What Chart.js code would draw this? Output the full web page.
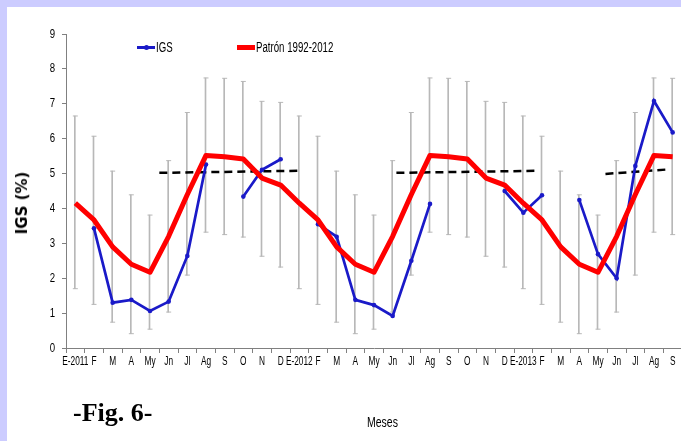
<!DOCTYPE html>
<html>
<head>
<meta charset="utf-8">
<script src="https://cdn.jsdelivr.net/npm/chart.js@4"></script>
<style>
  body { margin: 0; width: 681px; height: 441px; overflow: hidden; background: #ccccff; position: relative; }
  #panel { position: absolute; left: 7px; top: 7px; right: 0; bottom: 0; background: #fff; }
  #wrap { position: absolute; left: 0; top: 0; width: 690px; height: 441px; }
  .txt { position: absolute; white-space: nowrap; }
  #ytitle { left: 22px; top: 203px; transform: translate(-50%, -50%) rotate(-90deg); font: bold 15px "DejaVu Sans", sans-serif; }
  #xtitle { left: 367px; top: 414px; transform: scaleX(0.75); transform-origin: left top; font: 14px "Liberation Sans", sans-serif; line-height: 16px; }
  #fig { left: 73px; top: 398px; font: bold 26px "Liberation Serif", serif; }
  .leg { top: 39px; font: 14px "Liberation Sans", sans-serif; line-height: 16px; transform: scaleX(0.69); transform-origin: left top; }
  .sw { position: absolute; }
</style>
</head>
<body>
<div id="panel"></div>
<div id="wrap"><canvas id="chart"></canvas></div>
<div class="txt" id="ytitle">IGS (%)</div>
<div class="txt" id="xtitle">Meses</div>
<div class="txt" id="fig">-Fig. 6-</div>
<div class="sw" style="left:137px;top:46px;width:18px;height:3px;background:#1a1ac8"></div>
<div class="sw" style="left:144px;top:45px;width:5px;height:5px;border-radius:3px;background:#1a1ac8"></div>
<div class="txt leg" style="left:156px">IGS</div>
<div class="sw" style="left:237px;top:45px;width:18px;height:5px;background:#ff0000"></div>
<div class="txt leg" style="left:256px">Patrón 1992-2012</div>
<script>
// months Jan 2011 - Sep 2013
const meses = ['E-2011','F','M','A','My','Jn','Jl','Ag','S','O','N','D',
  'E-2012','F','M','A','My','Jn','Jl','Ag','S','O','N','D',
  'E-2013','F','M','A','My','Jn','Jl','Ag','S'];

// IGS measured (gaps = no sample)
const igs = [null,3.43,1.30,1.38,1.06,1.33,2.64,5.26,null,4.34,5.11,5.41,
  null,3.55,3.19,1.38,1.23,0.92,2.50,4.13,null,null,null,4.50,
  3.88,4.38,null,4.24,2.69,2.00,5.22,7.08,6.18];

// Patron 1992-2012
const patron = [4.15,3.67,2.90,2.40,2.17,3.20,4.40,5.52,5.48,5.42,4.87,4.67,
  4.15,3.67,2.90,2.40,2.17,3.20,4.40,5.52,5.48,5.42,4.87,4.67,
  4.15,3.67,2.90,2.40,2.17,3.20,4.40,5.52,5.48];

// error bars of the pattern (low / high)
const errLo = [1.70,1.25,0.74,0.41,0.54,1.03,2.09,3.32,3.25,3.18,2.63,2.32,
  1.70,1.25,0.74,0.41,0.54,1.03,2.09,3.32,3.25,3.18,2.63,2.32,
  1.70,1.25,0.74,0.41,0.54,1.03,2.09,3.32,3.25];
const errHi = [6.65,6.07,5.07,4.39,3.81,5.37,6.75,7.74,7.73,7.64,7.07,7.04,
  6.65,6.07,5.07,4.39,3.81,5.37,6.75,7.74,7.73,7.64,7.07,7.04,
  6.65,6.07,5.07,4.39,3.81,5.37,6.75,7.74,7.73];

// dashed reference lines (x = month index)
const media1 = [{x: 4.5, y: 5.02}, {x: 12.05, y: 5.08}];
const media2 = [{x: 17.2, y: 5.02}, {x: 24.8, y: 5.08}];
const media3 = [{x: 28.4, y: 4.99}, {x: 31.8, y: 5.12}];

const yTicks = [0,1,2,3,4,5,6,7,8,9];

const grey = '#b8b8b8';

function dashed(data) {
  return {
    type: 'line', data: data, xAxisID: 'x2',
    borderColor: '#000', borderWidth: 2.5, borderDash: [8, 5],
    pointRadius: 0, fill: false, order: 2
  };
}

function caps(values) {
  return {
    type: 'line', data: values, showLine: false,
    pointStyle: 'line', pointRadius: 2.5, pointBorderWidth: 1,
    borderColor: grey, backgroundColor: grey, order: 5
  };
}

// tick labels in a narrow face, like the original
const narrowTicks = {
  id: 'narrowTicks',
  afterDraw(chart) {
    const ctx = chart.ctx;
    const xs = chart.scales.x, ys = chart.scales.y;
    ctx.save();
    ctx.fillStyle = '#000';
    ctx.font = '13px "Liberation Sans", sans-serif';
    ctx.textBaseline = 'middle';
    ctx.textAlign = 'center';
    meses.forEach((m, i) => {
      ctx.save();
      ctx.translate(xs.getPixelForValue(i), xs.top + 13);
      ctx.scale(0.64, 1);
      ctx.fillText(m, 0, 0);
      ctx.restore();
    });
    ctx.textAlign = 'right';
    yTicks.forEach(v => {
      ctx.save();
      ctx.translate(55, ys.getPixelForValue(v));
      ctx.scale(0.74, 1);
      ctx.fillText(String(v), 0, 0);
      ctx.restore();
    });
    ctx.restore();
  }
};

new Chart(document.getElementById('chart'), {
  type: 'line',
  data: {
    labels: meses,
    datasets: [
      {
        type: 'line', label: 'IGS', data: igs,
        borderColor: '#1a1ac8', backgroundColor: '#1a1ac8',
        borderWidth: 2.7, pointRadius: 2.3, pointBorderWidth: 0,
        spanGaps: false, fill: false, order: 1
      },
      {
        type: 'line', label: 'Patrón 1992-2012', data: patron,
        borderColor: '#ff0000', backgroundColor: '#ff0000',
        borderWidth: 5, borderJoinStyle: 'round', pointRadius: 0,
        fill: false, order: 0
      },
      dashed(media1), dashed(media2), dashed(media3),
      {
        type: 'bar', data: errLo.map((lo, i) => [lo, errHi[i]]),
        backgroundColor: grey, barThickness: 1, order: 6
      },
      caps(errLo), caps(errHi)
    ]
  },
  options: {
    responsive: true,
    maintainAspectRatio: false,
    animation: false,
    layout: { padding: { top: 34, right: 8, left: 0, bottom: 0 } },
    plugins: { legend: { display: false }, tooltip: { enabled: false } },
    scales: {
      x: {
        type: 'category', offset: true,
        grid: { offset: true, drawOnChartArea: false, drawTicks: true, tickLength: 5, color: '#808080' },
        border: { color: '#808080', width: 1 },
        ticks: { display: false, autoSkip: false },
        afterFit: s => { s.height = 93; }
      },
      x2: {
        type: 'linear', display: false, min: -0.5, max: 32.5
      },
      y: {
        min: 0, max: 9,
        afterBuildTicks: s => { s.ticks = yTicks.map(v => ({ value: v })); },
        grid: { drawOnChartArea: false, tickLength: 4, color: '#808080' },
        border: { color: '#808080', width: 1 },
        ticks: { display: false },
        afterFit: s => { s.width = 66; }
      }
    }
  },
  plugins: [narrowTicks]
});
</script>
</body>
</html>
